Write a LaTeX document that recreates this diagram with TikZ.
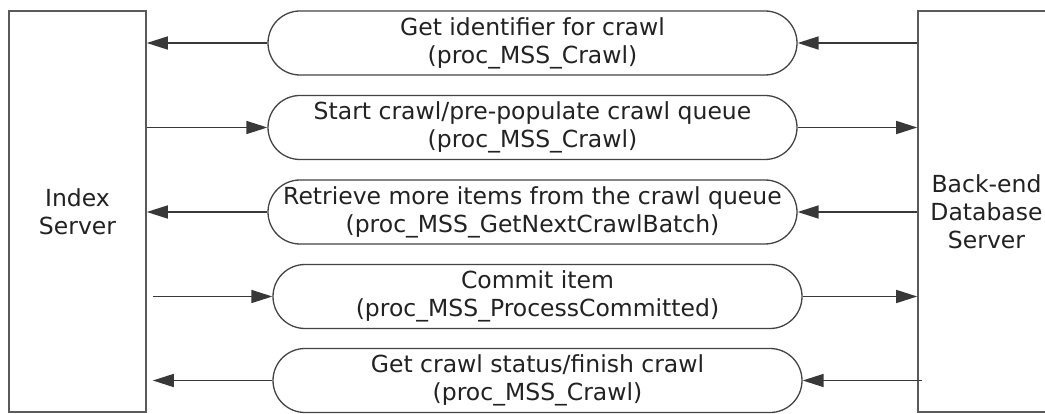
\documentclass[tikz,border=0pt]{standalone}
\usepackage{fontspec}
\setmainfont{DejaVu Sans}
\usetikzlibrary{arrows.meta}
\definecolor{boxline}{HTML}{5A5A5A}
\definecolor{txt}{HTML}{222222}
\begin{document}
\begin{tikzpicture}[x=1pt,y=-1pt,
  server/.style={draw=boxline, line width=1.6pt, minimum width=137pt, minimum height=401pt,
    inner sep=0pt, align=center, text=txt, font=\fontsize{23.5}{28}\selectfont},
  pill/.style={draw=txt!85, line width=1.3pt, rounded corners=32pt, minimum width=529pt,
    minimum height=64pt, inner sep=0pt, align=center, text=txt, font=\fontsize{23.5}{28}\selectfont},
  msg/.style={draw=txt!90, line width=1.6pt, -{Triangle[length=21pt,width=13pt]}}]
\useasboundingbox (0,0) rectangle (1045,414);
\clip (0,0) rectangle (1045,414);
\fill[white] (0,0) rectangle (1045,414);
\node[server] (idx) at (77.5,211.5) {Index\\Server};
\node[server] (db) at (986.5,211.5) {Back-end\\Database\\Server};
\node[pill] (p1) at (532.5,43) {Get identifier for crawl\\(proc\_MSS\_Crawl)};
\node[pill] (p2) at (532.5,127.5) {Start crawl/pre-populate crawl queue\\(proc\_MSS\_Crawl)};
\node[pill] (p3) at (532.5,212) {Retrieve more items from the crawl queue\\(proc\_MSS\_GetNextCrawlBatch)};
\node[pill] (p4) at (537.5,296.5) {Commit item\\(proc\_MSS\_ProcessCommitted)};
\node[pill] (p5) at (537.5,380.5) {Get crawl status/finish crawl\\(proc\_MSS\_Crawl)};
% row 1
\draw[msg] (db.west |- p1) -- (p1.east);
\draw[msg] (p1.west) -- (idx.east |- p1);
% row 2
\draw[msg] (idx.east |- p2) -- (p2.west);
\draw[msg] (p2.east) -- (db.west |- p2);
% row 3
\draw[msg] (db.west |- p3) -- (p3.east);
\draw[msg] (p3.west) -- (idx.east |- p3);
% row 4
\draw[msg, shorten <=6pt] (idx.east |- p4) -- (p4.west);
\draw[msg] (p4.east) -- (db.west |- p4);
% row 5
\draw[msg, shorten <=-5pt] (db.west |- p5) -- (p5.east);
\draw[msg, shorten >=6pt] (p5.west) -- (idx.east |- p5);
\end{tikzpicture}
\end{document}
